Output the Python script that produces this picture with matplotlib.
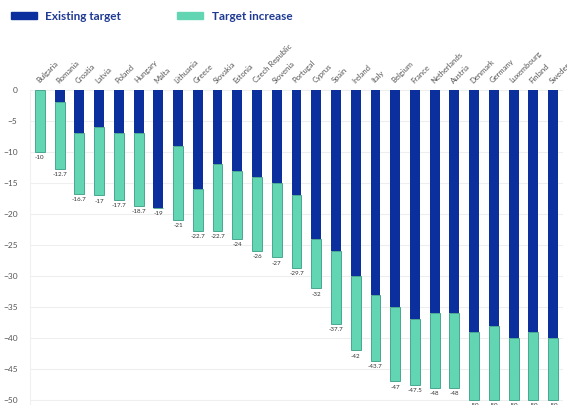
import numpy as np
import matplotlib.pyplot as plt
from matplotlib.patches import Patch

plt.rcParams["font.family"] = ["Lato", "DejaVu Sans"]

countries = [
    "Bulgaria", "Romania", "Croatia", "Latvia", "Poland", "Hungary", "Malta",
    "Lithuania", "Greece", "Slovakia", "Estonia", "Czech Republic", "Slovenia",
    "Portugal", "Cyprus", "Spain", "Ireland", "Italy", "Belgium", "France",
    "Netherlands", "Austria", "Denmark", "Germany", "Luxembourg", "Finland",
    "Sweden",
]
existing = [0, -2, -7, -6, -7, -7, -19, -9, -16, -12, -13, -14, -15, -17,
            -24, -26, -30, -33, -35, -37, -36, -36, -39, -38, -40, -39, -40]
new_target = [-10, -12.7, -16.7, -17, -17.7, -18.7, -19, -21, -22.7, -22.7,
              -24, -26, -27, -28.7, -32, -37.7, -42, -43.7, -47, -47.5, -48,
              -48, -50, -50, -50, -50, -50]
labels = ["-10", "-12.7", "-16.7", "-17", "-17.7", "-18.7", "-19", "-21",
          "-22.7", "-22.7", "-24", "-26", "-27", "-29.7", "-32", "-37.7", "-42",
          "-43.7", "-47", "-47.5", "-48", "-48", "-50", "-50", "-50", "-50", "-50"]

dark = "#0b2f9c"
teal = "#62d6b2"

existing = np.array(existing)
new_target = np.array(new_target)
increase = new_target - existing
x = np.arange(len(countries))

fig = plt.figure(figsize=(5.67, 4.05), dpi=100)
ax = fig.add_axes([30 / 567, 0.0, 533 / 567, 315 / 405])

ax.bar(x, existing, width=0.5, color=dark, zorder=3)
ax.bar(x, increase, bottom=existing, width=0.5, color=teal,
       edgecolor="#3a9c86", linewidth=0.6, zorder=3)

for i in range(len(x)):
    ax.text(x[i], new_target[i] - 0.5, labels[i], ha="center", va="top",
            fontsize=4.5, color="#333333")

ax.set_xlim(-0.5, len(x) - 0.5)
ax.set_ylim(-50.8, 0)
ax.set_yticks(np.arange(0, -51, -5))
ax.yaxis.grid(True, color="#eeeeee", linewidth=0.8, zorder=0)
ax.tick_params(axis="y", length=0, labelsize=6, labelcolor="#555555", pad=9)
for s in ["top", "right", "bottom"]:
    ax.spines[s].set_visible(False)
ax.spines["left"].set_color("#f0f0f0")

ax.xaxis.tick_top()
ax.set_xticks(x)
ax.set_xticklabels(countries, rotation=45, ha="left", rotation_mode="anchor",
                   fontsize=5.5, color="#555555")
ax.tick_params(axis="x", length=0, pad=4)

handles = [Patch(color=dark), Patch(color=teal)]
fig.legend(handles, ["Existing target", "Target increase"], loc="upper left",
           bbox_to_anchor=(0.0, 1.0), ncol=2, frameon=False,
           handlelength=2.2, handleheight=0.5, handletextpad=0.7,
           columnspacing=4.8, prop={"weight": "bold", "size": 8.5},
           labelcolor="#1f3a93")

fig.savefig("out.png", dpi=100)
